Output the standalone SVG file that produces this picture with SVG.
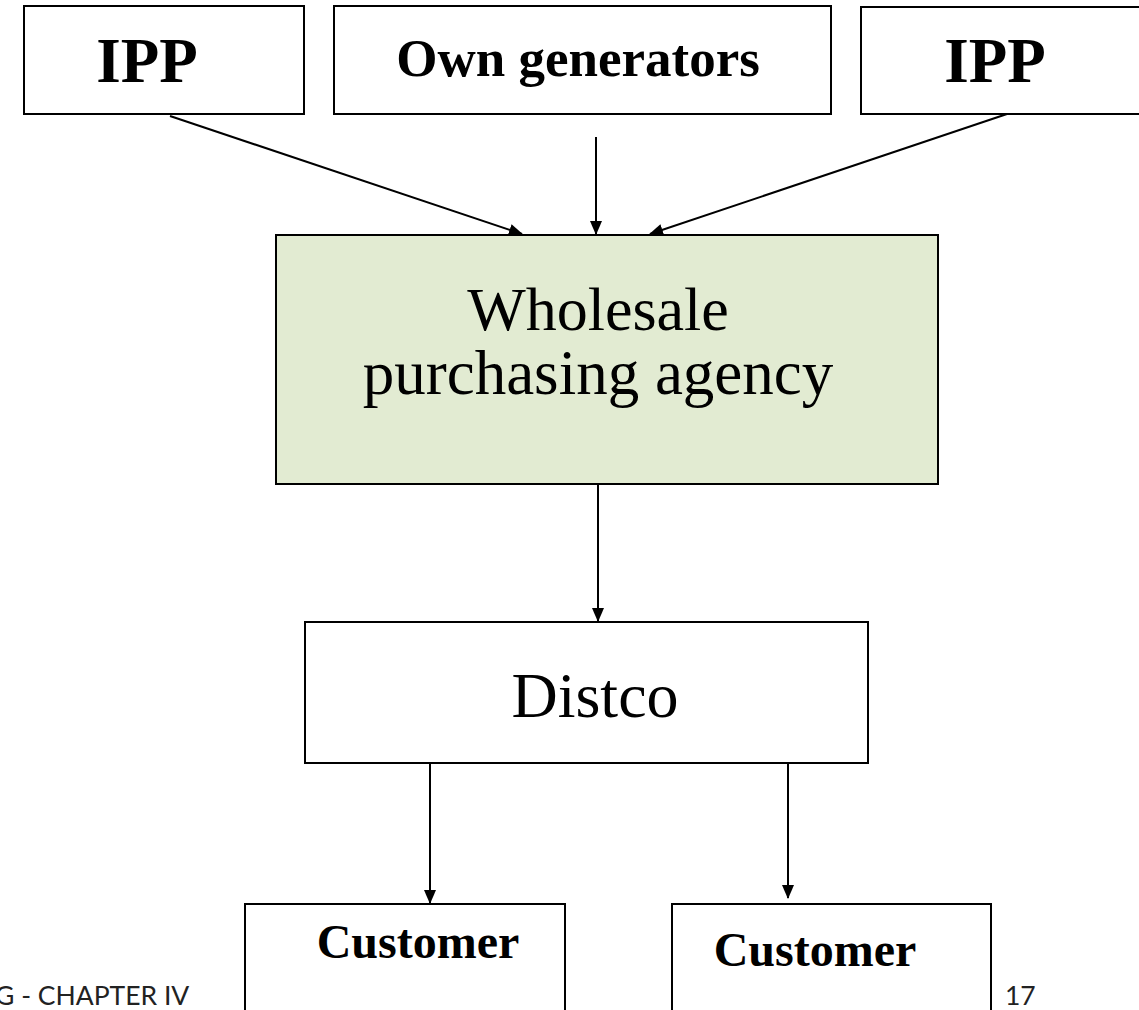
<svg xmlns="http://www.w3.org/2000/svg" width="1139" height="1010" viewBox="0 0 1139 1010">
<defs>
<marker id="ah" markerWidth="14" markerHeight="12" refX="13" refY="6" orient="auto" markerUnits="userSpaceOnUse" viewBox="0 0 14 12">
<path d="M0,0 L14,6 L0,12 z" fill="#000"/>
</marker>
<style>
.box{fill:#fff;stroke:#000;stroke-width:2}
.green{fill:#e2ebd2;stroke:#000;stroke-width:2}
.tb{font-family:"Liberation Serif",serif;font-weight:bold;fill:#000;text-anchor:middle}
.tr{font-family:"Liberation Serif",serif;fill:#000;text-anchor:middle}
.ft{font-family:"Lato","Open Sans",sans-serif;fill:#222;font-size:26.5px}
.cn{stroke:#000;stroke-width:2;fill:none;marker-end:url(#ah)}
</style>
</defs>
<rect width="1139" height="1010" fill="#fff"/>
<g id="ipp-left"><rect class="box" x="24" y="6" width="280" height="108"/><text class="tb" x="147" y="82" font-size="63">IPP</text></g>
<g id="own-generators"><rect class="box" x="334" y="6" width="497" height="108"/><text class="tb" x="578" y="76" font-size="53">Own generators</text></g>
<g id="ipp-right"><rect class="box" x="861" y="7" width="290" height="107"/><text class="tb" x="995" y="82" font-size="63">IPP</text></g>
<g id="wholesale"><rect class="green" x="276" y="235" width="662" height="249"/><text class="tr" x="598" y="330" font-size="62">Wholesale</text><text class="tr" x="598" y="394" font-size="63">purchasing agency</text></g>
<g id="distco"><rect class="box" x="305" y="622" width="563" height="141"/><text class="tr" x="595" y="717" font-size="64">Distco</text></g>
<g id="customer-left"><rect class="box" x="245" y="904" width="320" height="120"/><text class="tb" x="418" y="958" font-size="48">Customer</text></g>
<g id="customer-right"><rect class="box" x="672" y="904" width="319" height="120"/><text class="tb" x="815" y="966" font-size="48">Customer</text></g>
<g id="connectors">
<line class="cn" x1="170" y1="116" x2="522" y2="234"/>
<line class="cn" x1="596" y1="137" x2="596" y2="234"/>
<line class="cn" x1="1007" y1="114" x2="650" y2="234"/>
<line class="cn" x1="598" y1="484" x2="598" y2="621"/>
<line class="cn" x1="430" y1="763" x2="430" y2="903"/>
<line class="cn" x1="788" y1="763" x2="788" y2="898"/>
</g>
<text class="ft" x="-5" y="1005">G - CHAPTER IV</text>
<text class="ft" x="1005" y="1005">17</text>
</svg>
